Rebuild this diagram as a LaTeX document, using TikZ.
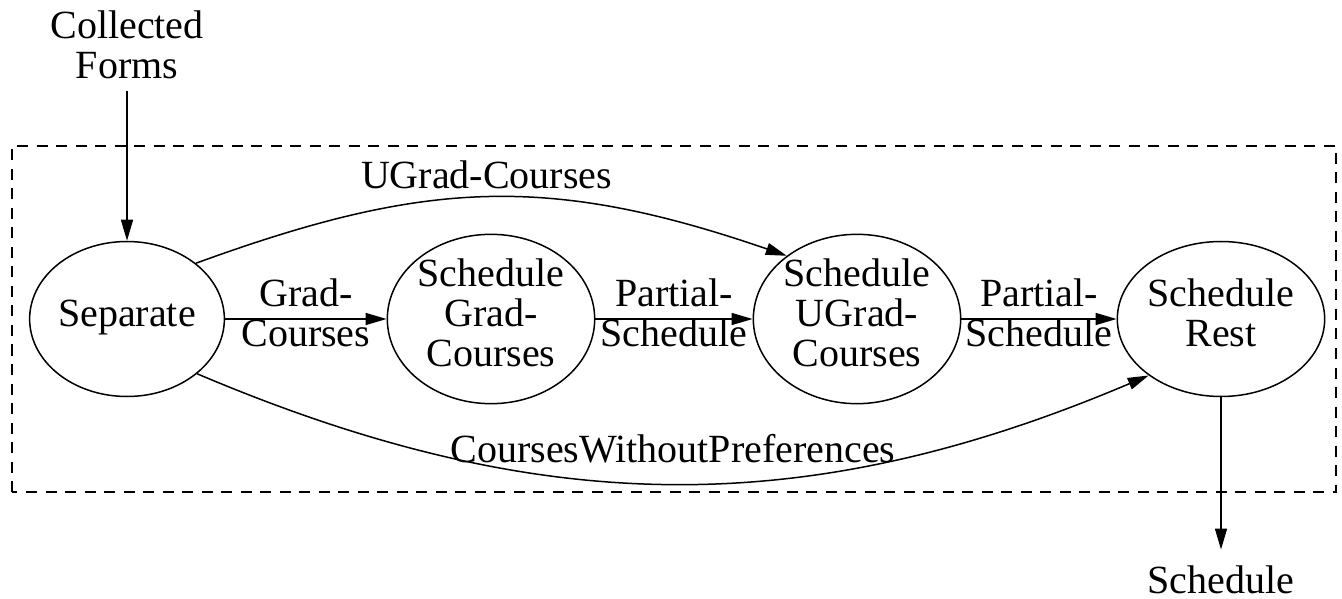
\documentclass[tikz,border=0pt]{standalone}
\usepackage{fontspec}
\setmainfont{LiberationSerif}[Extension=.ttf, UprightFont=*-Regular, BoldFont=*-Bold, ItalicFont=*-Italic, BoldItalicFont=*-BoldItalic]
\usetikzlibrary{arrows.meta,shapes.geometric}
\begin{document}
\begin{tikzpicture}[x=1pt,y=1pt,
  every node/.style={font=\fontsize{40}{40}\selectfont, inner sep=0pt, align=center},
  proc/.style={draw, ellipse, line width=1.5pt, minimum width=194pt, minimum height=155pt},
  flow/.style={-{Triangle[length=21pt,width=12pt]}, line width=1.5pt},
  frame/.style={line width=1.5pt, dash pattern=on 11pt off 8.5pt},
  lbl/.style={midway}
]
\useasboundingbox (0,0) rectangle (1342,598);

% process boundary
\draw[frame] (12,106) rectangle (1336,452);

% external data
\node (collected) at (127,547) {Collected\\Forms\strut};
\node[anchor=base] (sched) at (1221,5) {Schedule};

% processes
\node[proc] (sep) at (127,279) {Separate\strut};
\node[proc] (sgc) at (491,279) {Schedule\\Grad-\\Courses\strut};
\node[proc] (suc) at (857,279) {Schedule\\UGrad-\\Courses\strut};
\node[proc] (sr)  at (1221,279) {Schedule\\Rest\strut};

% data flows
\draw[flow] (collected) -- (sep);
\draw[flow] (sep) -- node[lbl]{Grad-\\Courses\strut} (sgc);
\draw[flow] (sgc) -- node[lbl]{Partial-\\Schedule\strut} (suc);
\draw[flow] (suc) -- node[lbl]{Partial-\\Schedule\strut} (sr);
\draw[flow] (sep.39) .. controls +(20:242) and +(161:254) ..
  node[lbl, yshift=17pt]{UGrad-Courses\strut} (suc.138);
\draw[flow] (sep.-38) .. controls +(-23:372) and +(203:372) ..
  node[lbl, yshift=29pt]{CoursesWithoutPreferences\strut} (sr.218);
\draw[flow, shorten >=15.5pt] (sr) -- (sched);
\end{tikzpicture}
\end{document}
